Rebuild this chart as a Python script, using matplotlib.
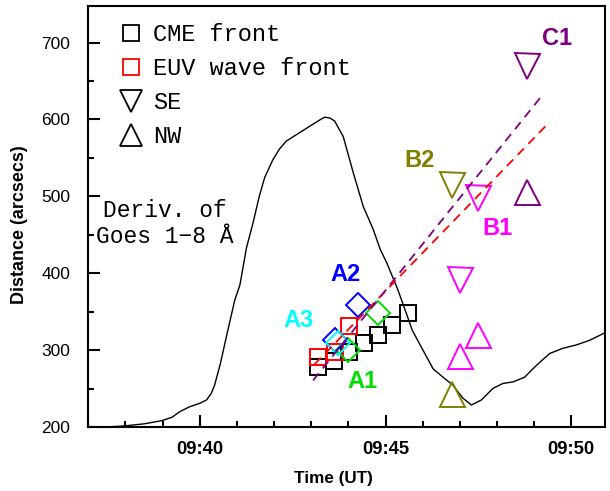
import matplotlib
matplotlib.use("Agg")
import matplotlib.pyplot as plt
from matplotlib.lines import Line2D
from matplotlib.ticker import MultipleLocator, FuncFormatter

# times are minutes after 09:00 UT, distances in arcsecs

# derivative of GOES 1-8 A flux, scaled onto the distance axis
goes_t = [37.0, 37.5, 37.94, 38.5, 38.97, 39.25, 39.46, 39.73, 40.0, 40.18,
          40.31, 40.40, 40.55, 40.75, 40.94, 41.08, 41.26, 41.43, 41.60, 41.75,
          41.97, 42.15, 42.33, 42.69, 43.05, 43.25, 43.36, 43.50, 43.63, 43.86,
          44.13, 44.40, 44.67, 44.85, 45.03, 45.33, 45.56, 45.72, 46.01, 46.28,
          46.55, 46.81, 47.08, 47.31, 47.58, 47.89, 48.16, 48.43, 48.74, 49.05,
          49.42, 49.77, 50.13, 50.49, 50.91]
goes_v = [200, 200.5, 201.7, 204.5, 208.6, 213, 220.3, 226.8, 231.2, 235.5,
          244.2, 255, 282, 325, 365, 385, 434, 465, 500, 525,
          548, 562, 572, 583, 594, 600, 603, 602, 598, 578,
          531, 487, 457, 432, 414, 379, 348, 326, 300, 276,
          265, 255, 238, 229, 235.5, 250.6, 257, 259, 265, 280,
          296, 302.6, 307, 313, 323]

cme_t = [43.19, 43.61, 44.01, 44.41, 44.80, 45.18, 45.60]
cme_d = [278, 286, 298, 309, 320, 333, 349]

euv_t = [43.18, 43.63, 44.01]
euv_d = [292, 298, 332]

a1_t = [43.99, 44.80]
a1_d = [300, 348]
a2_t = [43.63, 44.26]
a2_d = [313, 359]
a3_t = [43.72]
a3_d = [309]

# SE (down triangles) and NW (up triangles) fronts
b1_t = [47.0, 47.5]
b1_se = [391, 498]
b1_nw = [293, 320]
b2_t = [46.8]
b2_se = [515]
b2_nw = [243]
c1_t = [48.8]
c1_se = [670]
c1_nw = [506]

# linear fits
fit_euv_t = [43.09, 49.34]
fit_euv_d = [282, 593]
fit_c1_t = [43.05, 49.26]
fit_c1_d = [261, 634]

PURPLE = "#800080"
OLIVE = "#808000"
MAGENTA = "#ff00ff"
GREEN = "#00e000"
BLUE = "#0000ff"
CYAN = "#00ffff"
RED = "#ff0000"

MONO = ["Liberation Mono", "DejaVu Sans Mono"]
SANS = "Liberation Sans"

fig = plt.figure(figsize=(6.1, 4.91), dpi=100)
ax = fig.add_axes([0.1448, 0.1297, 0.8478, 0.8581])

ax.plot(goes_t, goes_v, color="black", lw=1.0, zorder=2)

sq = dict(ls="none", marker="s", ms=12, mfc="none", mew=1.4)
ax.plot(cme_t, cme_d, mec="black", zorder=3, **sq)
ax.plot(euv_t, euv_d, mec=RED, zorder=3, **sq)

dm = dict(ls="none", marker="D", ms=12, mfc="none", mew=1.4, zorder=4)
ax.plot(a1_t, a1_d, mec=GREEN, **dm)
ax.plot(a2_t, a2_d, mec=BLUE, **dm)
ax.plot(a3_t, a3_d, mec=CYAN, **dm)

tri = dict(ls="none", ms=18, mfc="none", mew=1.4, zorder=4)
for tt, se, nw, c in [(b1_t, b1_se, b1_nw, MAGENTA),
                      (b2_t, b2_se, b2_nw, OLIVE),
                      (c1_t, c1_se, c1_nw, PURPLE)]:
    ax.plot(tt, se, marker="v", mec=c, **tri)
    ax.plot(tt, nw, marker="^", mec=c, **tri)

ax.plot(fit_euv_t, fit_euv_d, color=RED, lw=1.3, ls=(0, (5, 3.5)), zorder=5)
ax.plot(fit_c1_t, fit_c1_d, color=PURPLE, lw=1.3, ls=(0, (5, 3.5)), zorder=5)

lbl = dict(fontsize=17, fontweight="bold", family=SANS, ha="center", va="center")
ax.text(49.63, 705, "C1", color=PURPLE, **lbl)
ax.text(45.92, 547, "B2", color=OLIVE, **lbl)
ax.text(48.0, 459, "B1", color=MAGENTA, **lbl)
ax.text(43.91, 399, "A2", color=BLUE, **lbl)
ax.text(42.66, 339, "A3", color=CYAN, **lbl)
ax.text(44.37, 260, "A1", color=GREEN, **lbl)

ax.text(39.06, 465, "Deriv. of\nGoes 1\u22128 \u00c5", family=MONO, fontsize=16.5,
        ha="center", va="center", linespacing=1.15)

handles = [
    Line2D([], [], ls="none", marker="s", ms=12, mfc="none", mec="black", mew=1.3),
    Line2D([], [], ls="none", marker="s", ms=12, mfc="none", mec=RED, mew=1.3),
    Line2D([], [], ls="none", marker="v", ms=16, mfc="none", mec="black", mew=1.3),
    Line2D([], [], ls="none", marker="^", ms=16, mfc="none", mec="black", mew=1.3),
]
ax.legend(handles, ["CME front", "EUV wave front", "SE", "NW"],
          loc="upper left", bbox_to_anchor=(0.0598, 0.9597), frameon=False,
          borderpad=0, borderaxespad=0, handlelength=1.0, handletextpad=0.43,
          labelspacing=0.47, prop={"family": MONO, "size": 17})

ax.set_xlim(37, 50.92)
ax.set_ylim(200, 747.5)
ax.xaxis.set_major_locator(MultipleLocator(5))
ax.xaxis.set_minor_locator(MultipleLocator(1))
ax.yaxis.set_major_locator(MultipleLocator(100))
ax.yaxis.set_minor_locator(MultipleLocator(50))
ax.xaxis.set_major_formatter(FuncFormatter(lambda v, p: f"09:{int(round(v)):02d}"))

for s in ax.spines.values():
    s.set_linewidth(1.5)
ax.tick_params(which="both", direction="in", top=False, right=False, width=1.5)
ax.tick_params(which="major", length=8.6)
ax.tick_params(which="minor", length=4.3)
ax.tick_params(axis="y", which="major", pad=13, labelsize=12.5)
ax.tick_params(axis="x", which="major", pad=9.5, labelsize=13.3)
for t in ax.get_yticklabels():
    t.set_family(SANS)
for t in ax.get_xticklabels():
    t.set_family(SANS)
    t.set_fontweight("bold")

ax.set_xlabel("Time (UT)", family=SANS, fontweight="bold", fontsize=12.3)
ax.set_ylabel("Distance (arcsecs)", family=SANS, fontweight="bold", fontsize=13)
ax.xaxis.set_label_coords(0.474, -0.103)
ax.yaxis.set_label_coords(-0.116, 0.48)

fig.savefig("out.png", dpi=100)
